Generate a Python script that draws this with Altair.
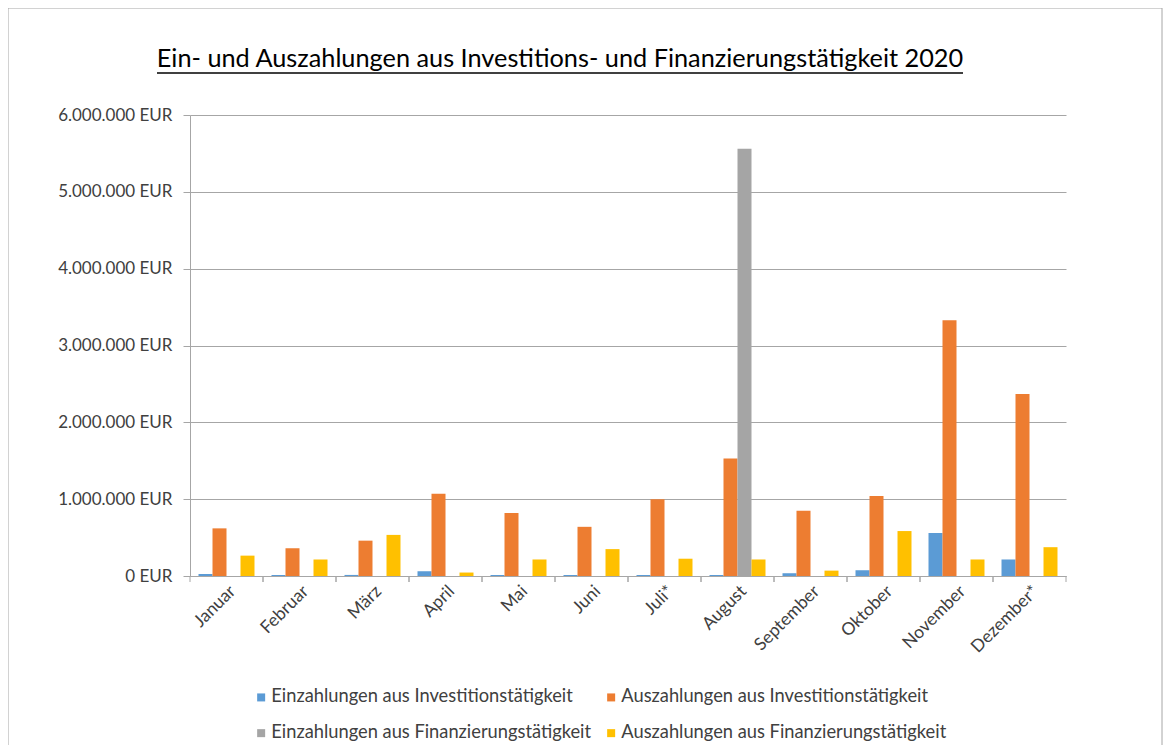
import altair as alt
import pandas as pd

months = ["Januar", "Februar", "März", "April", "Mai", "Juni", "Juli*",
          "August", "September", "Oktober", "November", "Dezember*"]
series = ["Einzahlungen aus Investitionstätigkeit",
          "Auszahlungen aus Investitionstätigkeit",
          "Einzahlungen aus Finanzierungstätigkeit",
          "Auszahlungen aus Finanzierungstätigkeit"]
colors = ["#5B9BD5", "#ED7D31", "#A5A5A5", "#FFC000"]

einz_inv = [26000, 14000, 14000, 62000, 13000, 13000, 13000, 13000, 36000, 75000, 560000, 215000]
ausz_inv = [620000, 360000, 460000, 1070000, 820000, 640000, 1000000, 1530000, 850000, 1040000, 3330000, 2370000]
einz_fin = [0, 0, 0, 0, 0, 0, 0, 5560000, 0, 0, 0, 0]
ausz_fin = [265000, 215000, 535000, 45000, 215000, 350000, 225000, 215000, 70000, 585000, 215000, 375000]

y_ticks = [0, 1000000, 2000000, 3000000, 4000000, 5000000, 6000000]
title_text = "Ein- und Auszahlungen aus Investitions- und Finanzierungstätigkeit 2020"

rows = []
for s, vals in zip(series, [einz_inv, ausz_inv, einz_fin, ausz_fin]):
    for m, v in zip(months, vals):
        rows.append({"Monat": m, "Reihe": s, "Wert": v})
df = pd.DataFrame(rows)

FONT = "Lato"
GRAY = "#A6A6A6"
W, H = 876, 461

x_axis = alt.Axis(title=None, labelAngle=-45, ticks=False, domainColor=GRAY,
                  labelFont=FONT, labelFontSize=17.5, labelColor="#404040",
                  labelPadding=6)

bars = alt.Chart(df).mark_bar().encode(
    x=alt.X("Monat:N", sort=months,
            scale=alt.Scale(paddingInner=0, paddingOuter=0), axis=x_axis),
    xOffset=alt.XOffset("Reihe:N", sort=series,
                        scale=alt.Scale(paddingInner=0, paddingOuter=0.607)),
    y=alt.Y("Wert:Q", scale=alt.Scale(domain=[0, 6000000]),
            axis=alt.Axis(values=y_ticks, title=None, grid=True, gridColor=GRAY,
                          domainColor=GRAY, tickColor=GRAY, tickSize=7,
                          labelPadding=11, labelFont=FONT, labelFontSize=17,
                          labelColor="#404040",
                          labelExpr="datum.value == 0 ? '0 EUR' : format(datum.value / 1000000, 'd') + '.000.000 EUR'")),
    color=alt.Color("Reihe:N", sort=series,
                    scale=alt.Scale(domain=series, range=colors),
                    legend=alt.Legend(title=None, orient="none", legendX=62, legendY=573,
                                      direction="horizontal", columns=2,
                                      symbolType="square", symbolSize=64,
                                      symbolStrokeWidth=0, labelFont=FONT, labelFontSize=18.3,
                                      labelColor="#404040", rowPadding=17, columnPadding=10,
                                      labelOffset=1, padding=0, labelLimit=600)),
)

tick_df = pd.DataFrame({"Monat": months})
ticks0 = alt.Chart(tick_df).mark_rule(color=GRAY).encode(
    x=alt.X("Monat:N", sort=months, bandPosition=0, axis=x_axis),
    y=alt.value(H), y2=alt.value(H + 6))
ticks1 = alt.Chart(tick_df).mark_rule(color=GRAY).encode(
    x=alt.X("Monat:N", sort=months, bandPosition=1, axis=x_axis),
    y=alt.value(H), y2=alt.value(H + 6))

one = pd.DataFrame({"a": [0]})
title = alt.Chart(one).mark_text(text=title_text, font=FONT, fontSize=25.3, color="#000000",
                                 align="center", baseline="alphabetic").encode(
    x=alt.value(370), y=alt.value(-48))
underline = alt.Chart(one).mark_rule(color="#000000", strokeWidth=1.5).encode(
    x=alt.value(-33), x2=alt.value(773), y=alt.value(-42))
border = alt.Chart(one).mark_rect(fillOpacity=0, stroke=GRAY, strokeWidth=1).encode(
    x=alt.value(-182), x2=alt.value(972), y=alt.value(-107), y2=alt.value(800))

chart = alt.layer(border, bars, ticks0, ticks1, title, underline).properties(
    width=W, height=H,
    autosize=alt.AutoSizeParams(type="none"),
    padding={"left": 182, "top": 107, "right": 97, "bottom": 169},
).configure_view(stroke=None)

chart.save("out.html", embed_options={"renderer": "svg", "actions": False})
